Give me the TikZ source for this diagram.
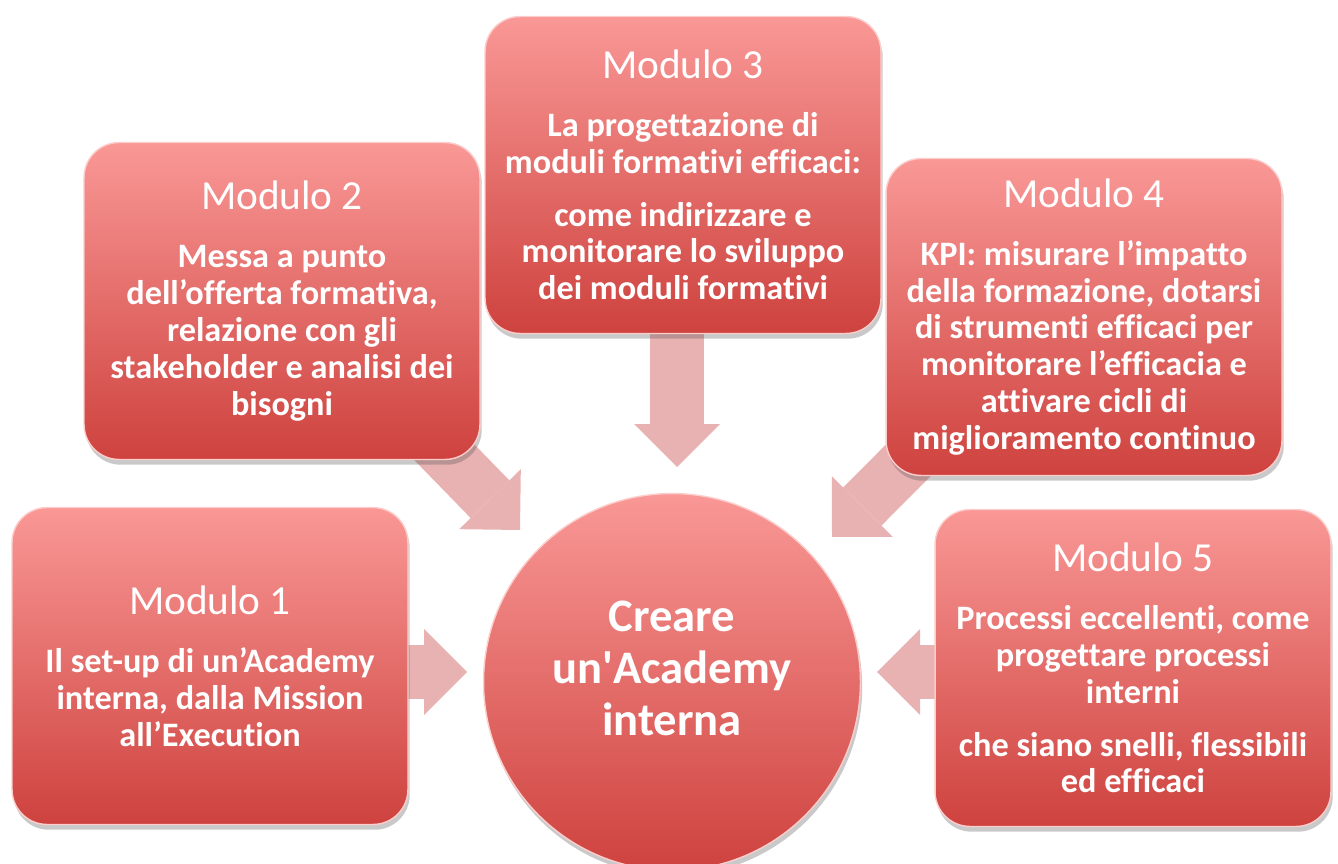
\documentclass[tikz,border=0pt]{standalone}
\usepackage{fontspec}
\setmainfont{Carlito}[Ligatures={TeX,NoCommon}]
\usetikzlibrary{arrows.meta,shadows,backgrounds,calc}

\definecolor{boxtop}{RGB}{249,152,150}
\definecolor{boxbottom}{RGB}{206,66,62}
\definecolor{boxrim}{RGB}{252,205,203}
\definecolor{arrowpink}{RGB}{233,178,178}
\newcommand{\modtitle}[1]{{\mdseries\fontsize{23.5}{26}\selectfont #1}}

\begin{document}
\begin{tikzpicture}[x=0.02cm, y=-0.02cm,
    modulo/.style={rectangle, rounded corners=0.7cm, minimum width=7.92cm, minimum height=6.34cm,
        top color=boxtop, bottom color=boxbottom, draw=boxrim, line width=0.8pt,
        drop shadow={shadow xshift=1pt, shadow yshift=-3pt, opacity=0.3, fill=black!70},
        text=white, align=center, font=\bfseries\fontsize{19.5}{21}\selectfont},
    centro/.style={circle, minimum size=7.54cm, inner sep=0pt,
        top color=boxtop, bottom color=boxbottom, draw=boxrim, line width=0.8pt,
        drop shadow={shadow xshift=1pt, shadow yshift=-3pt, opacity=0.3, fill=black!70},
        text=white, align=center, font=\bfseries\fontsize{26.5}{29.6}\selectfont},
    freccia/.style={draw=arrowpink, line width=1.08cm,
        -{Triangle[length=0.86cm, width=1.72cm, line width=0pt]}}
]
    \useasboundingbox (0,0) rectangle (1338,864);

    \node [centro] (centro) at (672,682) {Creare\\un\textquotesingle Academy\\interna\\[-14pt]\mbox{}};

    \node [modulo] (m1) at (210,666) {\modtitle{Modulo 1}\\[12pt]
        Il set-up di un’Academy\\interna, dalla Mission\\all’Execution};
    \node [modulo] (m2) at (282,301) {\modtitle{Modulo 2}\\[12pt]
        Messa a punto\\dell’offerta formativa,\\relazione con gli\\stakeholder e analisi dei\\bisogni};
    \node [modulo] (m3) at (683,175) {\modtitle{Modulo 3}\\[12pt]
        La progettazione di\\moduli formativi efficaci:\\[9pt]
        come indirizzare e\\monitorare lo sviluppo\\dei moduli formativi};
    \node [modulo] (m4) at (1084,317) {\modtitle{Modulo 4}\\[12pt]
        KPI: misurare l’impatto\\della formazione, dotarsi\\di strumenti efficaci per\\monitorare l’efficacia e\\attivare cicli di\\miglioramento continuo};
    \node [modulo] (m5) at (1133,668) {\modtitle{Modulo 5}\\[12pt]
        Processi eccellenti, come\\progettare processi\\interni\\[9pt]
        che siano snelli, flessibili\\ed efficaci};

    \coordinate (t1) at (467,672);
    \coordinate (t2) at (520,530);
    \coordinate (t3) at (677,467);
    \coordinate (t4) at (832,537);
    \coordinate (t5) at (877,672);

    \begin{scope}[on background layer]
        \draw [freccia] (m1 |- t1) -- (t1);
        \draw [freccia] ($(m2.south east)+(-52,-24)$) -- (t2);
        \draw [freccia] (t3 |- m3) -- (t3);
        \draw [freccia] ($(m4.south west)+(40,-33)$) -- (t4);
        \draw [freccia] (m5 |- t5) -- (t5);
    \end{scope}
\end{tikzpicture}
\end{document}
